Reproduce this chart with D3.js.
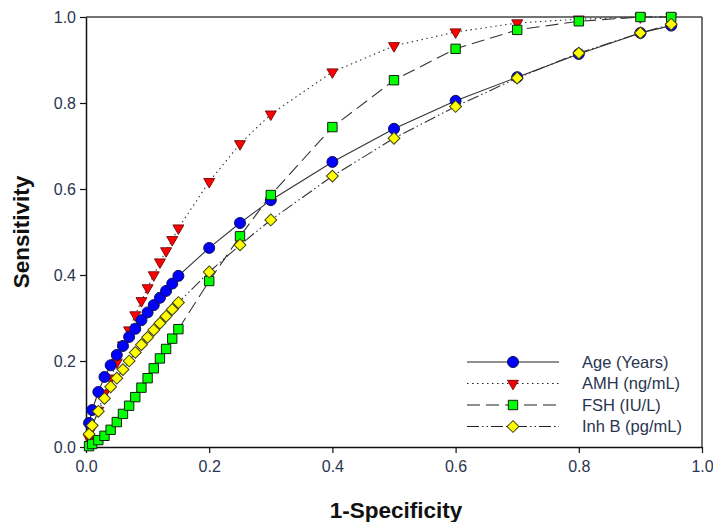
<!DOCTYPE html>
<html>
<head>
<meta charset="utf-8">
<script src="https://cdn.jsdelivr.net/npm/d3@7"></script>
<style>
  html, body { margin: 0; padding: 0; background: #fff; }
  svg { display: block; font-family: Arial, "Liberation Sans", sans-serif; }
</style>
</head>
<body>
<svg id="chart" width="713" height="522"></svg>
<script>
// ROC curves: 1-specificity (x) against sensitivity (y)
const ageX = [0, 0.005, 0.01, 0.02, 0.03, 0.04, 0.05, 0.06, 0.07, 0.08, 0.09, 0.10, 0.11, 0.12, 0.13, 0.14, 0.15, 0.2, 0.25, 0.3, 0.4, 0.5, 0.6, 0.7, 0.8, 0.9, 0.95];
const ageY = [0, 0.056, 0.086, 0.128, 0.163, 0.19, 0.214, 0.235, 0.256, 0.275, 0.295, 0.313, 0.33, 0.347, 0.363, 0.38, 0.398, 0.463, 0.521, 0.574, 0.663, 0.74, 0.805, 0.86, 0.914, 0.963, 0.98];

const amhX = [0, 0.005, 0.01, 0.02, 0.03, 0.04, 0.05, 0.06, 0.07, 0.08, 0.09, 0.10, 0.11, 0.12, 0.13, 0.14, 0.15, 0.2, 0.25, 0.3, 0.4, 0.5, 0.6, 0.7, 0.8, 0.9, 0.95];
const amhY = [0, 0.02, 0.045, 0.085, 0.125, 0.16, 0.197, 0.237, 0.272, 0.307, 0.34, 0.37, 0.40, 0.43, 0.456, 0.482, 0.509, 0.617, 0.705, 0.774, 0.872, 0.933, 0.965, 0.986, 0.995, 1.0, 1.0];

const fshX = [0, 0.005, 0.01, 0.02, 0.03, 0.04, 0.05, 0.06, 0.07, 0.08, 0.09, 0.10, 0.11, 0.12, 0.13, 0.14, 0.15, 0.2, 0.25, 0.3, 0.4, 0.5, 0.6, 0.7, 0.8, 0.9, 0.95];
const fshY = [0, 0.002, 0.007, 0.016, 0.026, 0.04, 0.058, 0.077, 0.096, 0.116, 0.138, 0.16, 0.183, 0.206, 0.228, 0.252, 0.274, 0.386, 0.49, 0.586, 0.744, 0.853, 0.926, 0.97, 0.99, 1.0, 1.0];

const inhX = [0, 0.005, 0.01, 0.02, 0.03, 0.04, 0.05, 0.06, 0.07, 0.08, 0.09, 0.10, 0.11, 0.12, 0.13, 0.14, 0.15, 0.2, 0.25, 0.3, 0.4, 0.5, 0.6, 0.7, 0.8, 0.9, 0.95];
const inhY = [0, 0.03, 0.05, 0.083, 0.113, 0.14, 0.16, 0.18, 0.2, 0.22, 0.238, 0.255, 0.272, 0.288, 0.304, 0.32, 0.336, 0.407, 0.47, 0.528, 0.63, 0.718, 0.792, 0.858, 0.916, 0.963, 0.983];

const seriesNames = ["Age (Years)", "AMH (ng/mL)", "FSH (IU/L)", "Inh B (pg/mL)"];
const xTicks = [0.0, 0.2, 0.4, 0.6, 0.8, 1.0];
const yTicks = [0.0, 0.2, 0.4, 0.6, 0.8, 1.0];

const svg = d3.select("#chart");
const margin = { left: 86, right: 11, top: 17, bottom: 75 };
const W = 713, H = 522;

const x = d3.scaleLinear().domain([0, 1]).range([margin.left, W - margin.right]);
const y = d3.scaleLinear().domain([0, 1]).range([H - margin.bottom, margin.top]);

const zip = (xs, ys) => xs.map((v, i) => [v, ys[i]]);

const styles = {
  age: { dash: null, sym: d3.symbolCircle, size: 95, fill: "#0000ff", stroke: "#101050" },
  amh: { dash: "1.5,3.5", sym: d3.symbolTriangle, size: 52, fill: "#ff0000", stroke: "#7a1010", transform: " rotate(180)" },
  fsh: { dash: "13,6", sym: d3.symbolSquare, size: 88, fill: "#00ff00", stroke: "#102010" },
  inh: { dash: "12,3,1.5,3,1.5,3", sym: d3.symbolSquare, size: 70, fill: "#ffff00", stroke: "#404010", transform: " rotate(45)" }
};

const series = [
  { key: "age", name: seriesNames[0], pts: zip(ageX, ageY) },
  { key: "amh", name: seriesNames[1], pts: zip(amhX, amhY) },
  { key: "fsh", name: seriesNames[2], pts: zip(fshX, fshY) },
  { key: "inh", name: seriesNames[3], pts: zip(inhX, inhY) }
];

// frame: top and right edges
svg.append("line").attr("x1", x(0)).attr("x2", x(1)).attr("y1", y(1)).attr("y2", y(1))
  .attr("stroke", "#444").attr("stroke-width", 1.5);
svg.append("line").attr("x1", x(1)).attr("x2", x(1)).attr("y1", y(1)).attr("y2", y(0))
  .attr("stroke", "#444").attr("stroke-width", 1.5);

// axes
const fmt = d3.format(".1f");
const xAxis = svg.append("g").attr("transform", `translate(0,${y(0)})`)
  .call(d3.axisBottom(x).tickValues(xTicks).tickFormat(fmt).tickSize(6).tickSizeOuter(0));
const yAxis = svg.append("g").attr("transform", `translate(${x(0)},0)`)
  .call(d3.axisLeft(y).tickValues(yTicks).tickFormat(fmt).tickSize(6).tickSizeOuter(0));
[xAxis, yAxis].forEach(g => {
  g.select(".domain").attr("stroke", "#111").attr("stroke-width", 1.5);
  g.selectAll(".tick line").attr("stroke", "#111").attr("stroke-width", 1.2);
  g.selectAll(".tick text").attr("fill", "#2a3550").style("font-size", "16px")
    .style("font-family", "Arial, 'Liberation Sans', sans-serif");
});
xAxis.selectAll(".tick text").attr("y", 13).attr("dy", "0.75em");
yAxis.selectAll(".tick text").attr("x", -10).attr("dy", "0.35em");

// axis titles
svg.append("text").attr("x", (x(0) + x(1)) / 2 + 2).attr("y", 518).attr("text-anchor", "middle")
  .style("font-size", "22.5px").style("font-weight", "bold").attr("fill", "#111").text("1-Specificity");
svg.append("text").attr("transform", `translate(29,${(y(0) + y(1)) / 2}) rotate(-90)`)
  .attr("text-anchor", "middle").style("font-size", "22.5px").style("font-weight", "bold")
  .attr("fill", "#111").text("Sensitivity");

// lines
const lineGen = d3.line().x(d => x(d[0])).y(d => y(d[1]));
const drawOrder = ["amh", "age", "fsh", "inh"];
drawOrder.forEach(k => {
  const s = series.find(v => v.key === k);
  const st = styles[k];
  svg.append("path").datum(s.pts).attr("d", lineGen).attr("fill", "none")
    .attr("stroke", "#333").attr("stroke-width", 1.1)
    .attr("stroke-dasharray", st.dash);
});

// markers (the origin anchor point carries no marker)
drawOrder.forEach(k => {
  const s = series.find(v => v.key === k);
  const st = styles[k];
  const sym = d3.symbol().type(st.sym).size(st.size);
  svg.append("g").selectAll("path").data(s.pts.slice(1)).join("path")
    .attr("d", sym)
    .attr("transform", d => `translate(${x(d[0])},${y(d[1])})${st.transform || ""}`)
    .attr("fill", st.fill).attr("stroke", st.stroke).attr("stroke-width", 1);
});

// legend
const legend = svg.append("g");
series.forEach((s, i) => {
  const st = styles[s.key];
  const ly = 362 + i * 21.5;
  legend.append("line").attr("x1", 467).attr("x2", 559).attr("y1", ly).attr("y2", ly)
    .attr("stroke", "#222").attr("stroke-width", 1.1).attr("stroke-dasharray", st.dash);
  legend.append("path").attr("d", d3.symbol().type(st.sym).size(st.size)())
    .attr("transform", `translate(513,${ly})${st.transform || ""}`)
    .attr("fill", st.fill).attr("stroke", st.stroke).attr("stroke-width", 1);
  legend.append("text").attr("x", 582).attr("y", ly).attr("dy", "0.36em")
    .style("font-size", "16.5px").attr("fill", "#2a3550").text(s.name);
});
</script>
</body>
</html>
